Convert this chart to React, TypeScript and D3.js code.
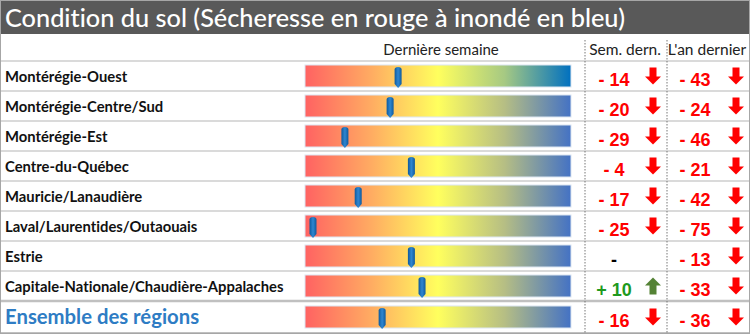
import React from "react";
import * as d3 from "d3";

const regions = [
  "Montérégie-Ouest",
  "Montérégie-Centre/Sud",
  "Montérégie-Est",
  "Centre-du-Québec",
  "Mauricie/Lanaudière",
  "Laval/Laurentides/Outaouais",
  "Estrie",
  "Capitale-Nationale/Chaudière-Appalaches",
  "Ensemble des régions",
];
const position = [35, 32, 15, 40, 20, 3, 40, 44, 29];
const weekChange = [-14, -20, -29, -4, -17, -25, 0, 10, -16];
const yearChange = [-43, -24, -46, -21, -42, -75, -13, -33, -36];
const headers = ["Dernière semaine", "Sem. dern.", "L'an dernier"];
const title = "Condition du sol (Sécheresse en rouge à inondé en bleu)";

const W = 750;
const H = 334;
const FONT = "Lato, 'Open Sans', sans-serif";

const fmt = (v: number) => (v === 0 ? "-" : v > 0 ? `+ ${v}` : `- ${Math.abs(v)}`);

function Arrow({ x, y, up, color }: { x: number; y: number; up: boolean; color: string }) {
  const hw = 8, sw = 3.5, h = 17, headH = 8;
  const top = y - h / 2, bot = y + h / 2;
  const d = up
    ? `M${x},${top} L${x + hw},${top + headH} L${x + sw},${top + headH} L${x + sw},${bot} L${x - sw},${bot} L${x - sw},${top + headH} L${x - hw},${top + headH} Z`
    : `M${x},${bot} L${x + hw},${bot - headH} L${x + sw},${bot - headH} L${x + sw},${top} L${x - sw},${top} L${x - sw},${bot - headH} L${x - hw},${bot - headH} Z`;
  return <path d={d} fill={color} />;
}

export default function App() {
  const x = d3.scaleLinear().domain([0, 100]).range([305, 571]);
  const rowTops = d3.range(8).map((i) => 61 + i * 30).concat([301]);
  const rowH = (i: number) => (i < 8 ? 30 : 32);
  const barH = 22;

  return (
    <svg width={W} height={H} style={{ position: "absolute", left: 0, top: 0, fontVariantLigatures: "none" }} fontFamily={FONT}>
      <defs>
        <linearGradient id="g1" x1="0" x2="1" y1="0" y2="0">
          <stop offset="0" stopColor="#FF6262" />
          <stop offset="0.25" stopColor="#FFAC62" />
          <stop offset="0.5" stopColor="#FFFF5E" />
          <stop offset="0.75" stopColor="#A6C983" />
          <stop offset="1" stopColor="#0070C0" />
        </linearGradient>
        <linearGradient id="g2" x1="0" x2="1" y1="0" y2="0">
          <stop offset="0" stopColor="#FF6262" />
          <stop offset="0.25" stopColor="#FFAC62" />
          <stop offset="0.5" stopColor="#FFFF5E" />
          <stop offset="0.75" stopColor="#B6BE84" />
          <stop offset="1" stopColor="#4472C4" />
        </linearGradient>
        <linearGradient id="mk" x1="0" x2="1" y1="0" y2="0">
          <stop offset="0" stopColor="#0E5A9E" />
          <stop offset="0.5" stopColor="#2F86D0" />
          <stop offset="1" stopColor="#0E5A9E" />
        </linearGradient>
      </defs>
      <rect x={0} y={0} width={W} height={H} fill="#fff" />
      <rect x={0} y={0} width={W} height={34} fill="#595959" />
      <text x={5} y={27} fill="#fff" fontSize={25.3} fontWeight={500} fontFamily={FONT}>
        {title}
      </text>

      <text x={441} y={55} textAnchor="middle" fontSize={15} fill="#222">{headers[0]}</text>
      <text x={625} y={55} textAnchor="middle" fontSize={15.5} fill="#222">{headers[1]}</text>
      <text x={707} y={55} textAnchor="middle" fontSize={15.5} fill="#222">{headers[2]}</text>

      {rowTops.map((t, i) => (
        <line key={"l" + i} x1={0} x2={W} y1={t} y2={t} stroke={i === 8 ? "#C0C0C0" : "#DADADA"} strokeWidth={i === 8 ? 2.5 : 2} />
      ))}
      <line x1={0} x2={W} y1={333} y2={333} stroke="#C0C0C0" strokeWidth={2} />

      {[585, 667].map((cx) => (
        <line key={cx} x1={cx} x2={cx} y1={40} y2={334} stroke="#777" strokeWidth={1} strokeDasharray="1.5,1.5" />
      ))}

      {regions.map((r, i) => {
        const t = rowTops[i];
        const cy = t + rowH(i) / 2;
        const last = i === 8;
        const by = cy - barH / 2;
        const mx = x(position[i]);
        const wc = weekChange[i];
        const yc = yearChange[i];
        const colorOf = (v: number) => (v === 0 ? "#000" : v > 0 ? "#1E9A1E" : "#FF0000");
        return (
          <g key={r}>
            <text
              x={5}
              y={last ? cy + 7 : cy + 5.5}
              fontSize={last ? 20.3 : 14.8}
              fontWeight="bold"
              fill={last ? "#2E7CC4" : "#111"}
            >
              {r}
            </text>
            <rect x={x(0)} y={by} width={x(100) - x(0)} height={barH} fill={i === 0 ? "url(#g1)" : "url(#g2)"} stroke="#DCE6F2" strokeWidth={1} />
            <path
              d={`M${mx - 3.5},${by + 4.5} Q${mx - 3.5},${by + 2} ${mx},${by + 2} Q${mx + 3.5},${by + 2} ${mx + 3.5},${by + 4.5} L${mx + 3.5},${by + barH - 3} L${mx},${by + barH + 1} L${mx - 3.5},${by + barH - 3} Z`}
              fill="url(#mk)"
            />
            <text x={614} y={cy + 10} textAnchor="middle" fontSize={18} fontWeight="bold" fontFamily="'Liberation Sans', Arial, sans-serif" fill={colorOf(wc)}>
              {fmt(wc)}
            </text>
            {wc !== 0 && <Arrow x={653} y={cy} up={wc > 0} color={wc > 0 ? "#548235" : "#FF0000"} />}
            <text x={695} y={cy + 10} textAnchor="middle" fontSize={18} fontWeight="bold" fontFamily="'Liberation Sans', Arial, sans-serif" fill={colorOf(yc)}>
              {fmt(yc)}
            </text>
            {yc !== 0 && <Arrow x={736} y={cy} up={yc > 0} color={yc > 0 ? "#548235" : "#FF0000"} />}
          </g>
        );
      })}
      <rect x={0.5} y={0.5} width={W - 1} height={H - 1} fill="none" stroke="#A6A6A6" strokeWidth={1} />
    </svg>
  );
}
